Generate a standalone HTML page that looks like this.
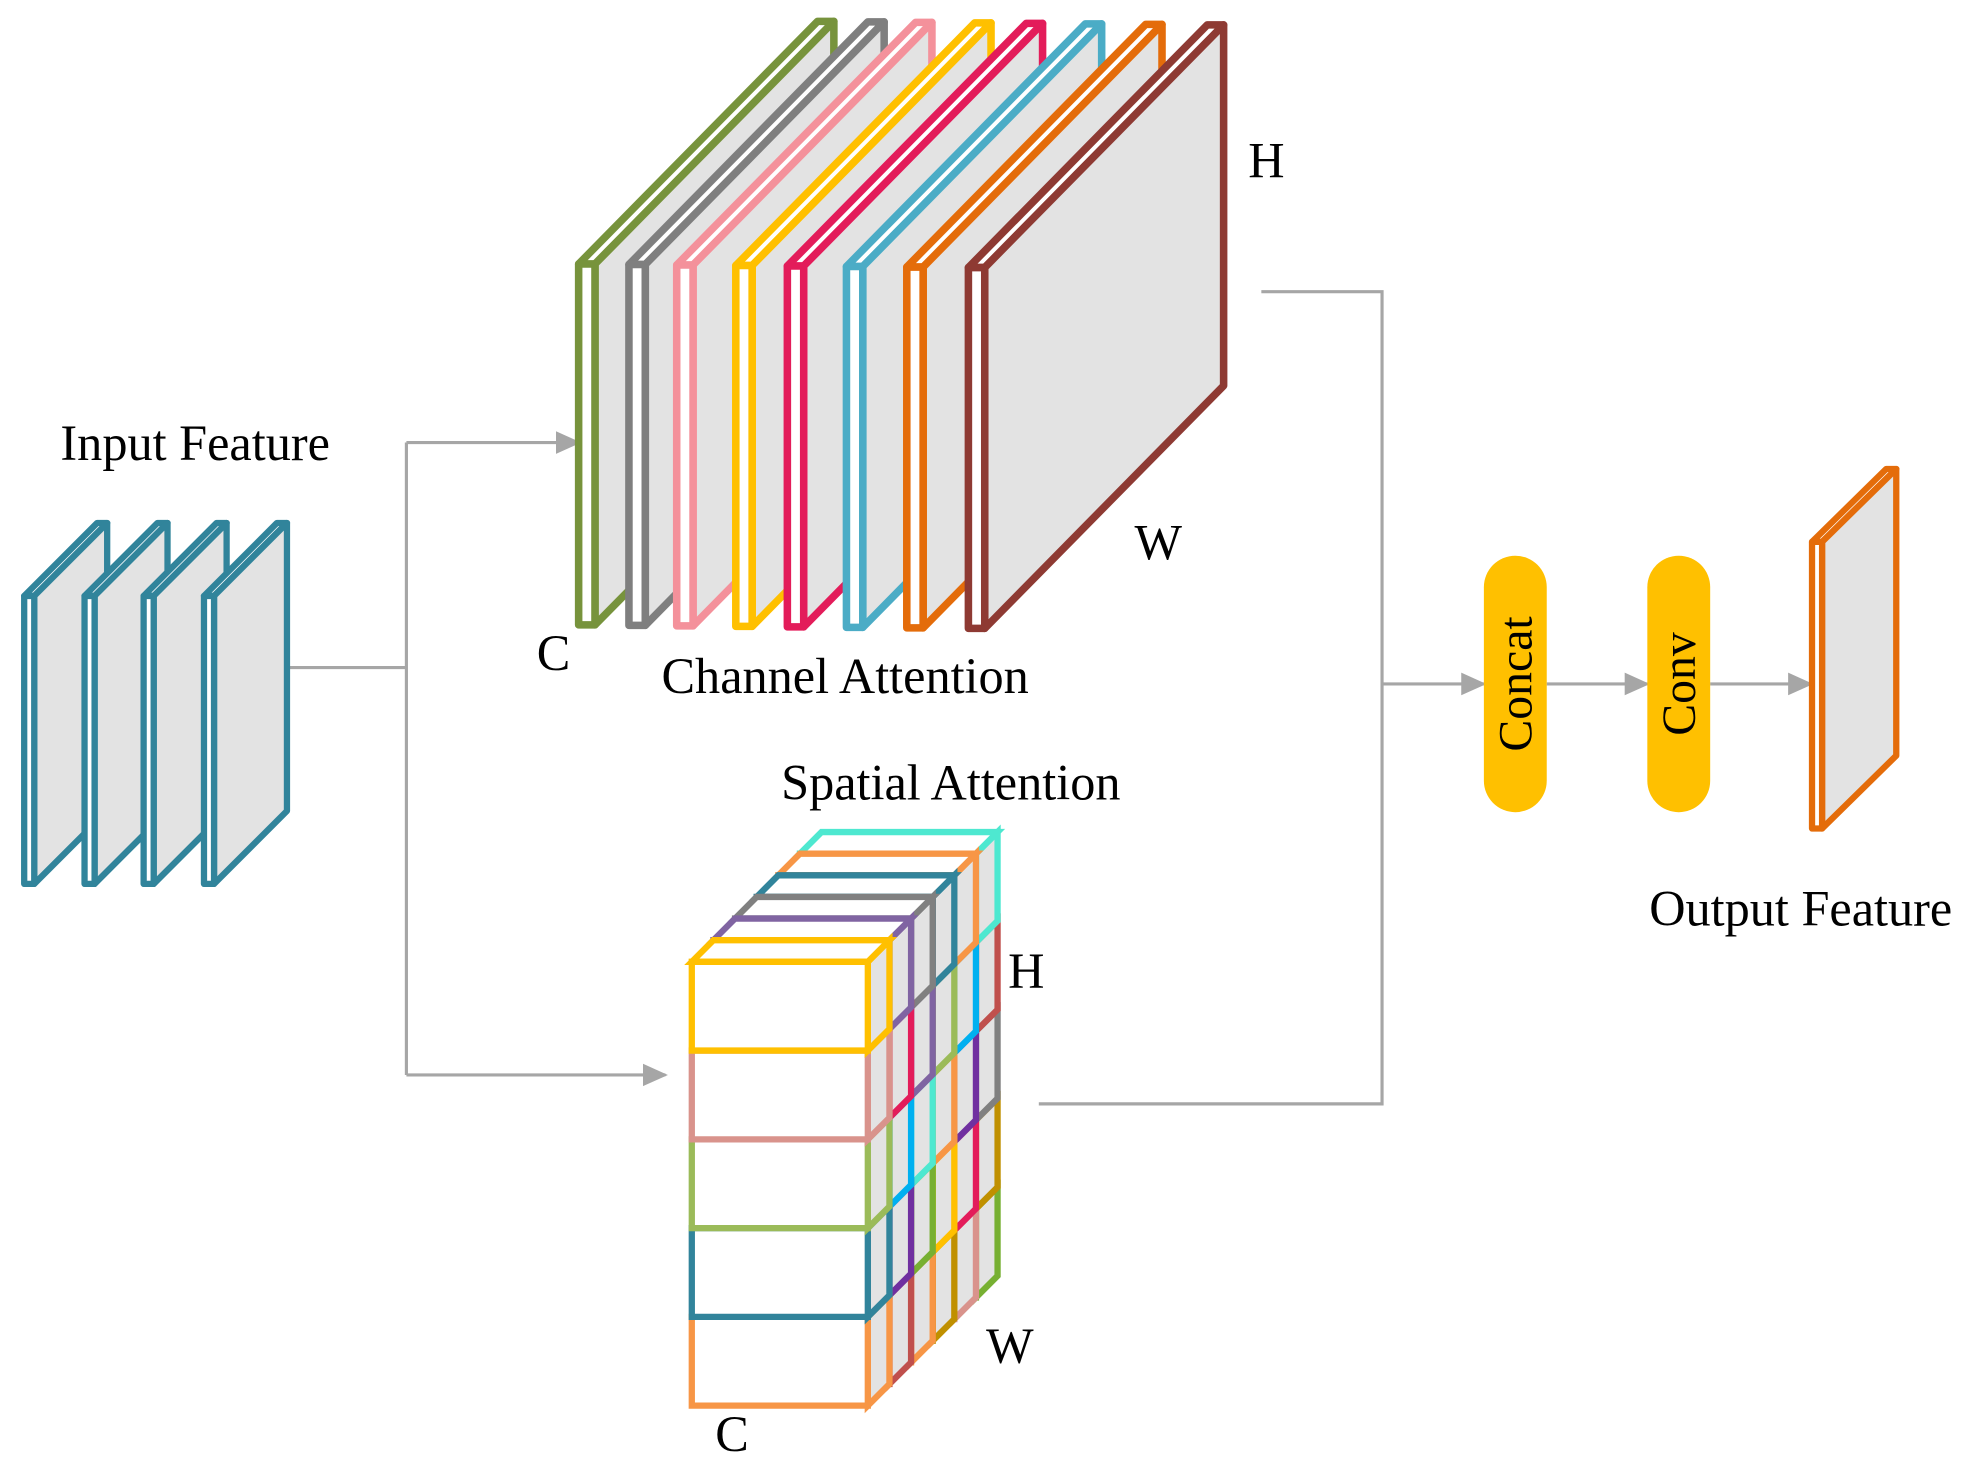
<!DOCTYPE html>
<html><head><meta charset="utf-8"><style>
html,body{margin:0;padding:0;background:#fff}
svg{display:block}
text{font-family:"Liberation Serif",serif;fill:#000}
</style></head><body>
<svg width="1972" height="1471" viewBox="0 0 1568 1170" xmlns="http://www.w3.org/2000/svg">
<defs>
<marker id="ah" markerWidth="20" markerHeight="20" refX="18" refY="9" orient="auto" markerUnits="userSpaceOnUse">
<path d="M0,0 L20,9 L0,18 Z" fill="#a6a6a6"/>
</marker>
</defs>
<g stroke="#a6a6a6" stroke-width="2.5" fill="none">
<path d="M230,531 H323 M323,352 V855"/>
<path d="M323,352 H460" marker-end="url(#ah)"/>
<path d="M323,855 H529" marker-end="url(#ah)"/>
<path d="M1003,232 H1099 V878 H826"/>
<path d="M1099,544 H1180" marker-end="url(#ah)"/>
<path d="M1230,544 H1310" marker-end="url(#ah)"/>
<path d="M1360,544 H1440" marker-end="url(#ah)"/>
</g>
<g id="slices" stroke-linejoin="round"></g>
<g id="spatial" stroke-linejoin="miter"></g>
<rect x="1180" y="442" width="50" height="204" rx="25" fill="#ffc000"/>
<rect x="1310" y="442" width="50" height="204" rx="25" fill="#ffc000"/>
<text transform="translate(1218,544) rotate(-90)" text-anchor="middle" font-size="38">Concat</text>
<text transform="translate(1348,544) rotate(-90)" text-anchor="middle" font-size="38">Conv</text>
<g font-size="40">
<text x="155" y="366" text-anchor="middle">Input Feature</text>
<text x="1007" y="141" text-anchor="middle">H</text>
<text x="921" y="445" text-anchor="middle">W</text>
<text x="440" y="533" text-anchor="middle">C</text>
<text x="672" y="551" text-anchor="middle">Channel Attention</text>
<text x="756" y="636" text-anchor="middle">Spatial Attention</text>
<text x="816" y="786" text-anchor="middle">H</text>
<text x="803" y="1084" text-anchor="middle">W</text>
<text x="582" y="1154" text-anchor="middle">C</text>
<text x="1432" y="736" text-anchor="middle">Output Feature</text>
</g>
<script>
var NS="http://www.w3.org/2000/svg";
function poly(g,pts,fill,stroke,sw){var p=document.createElementNS(NS,"polygon");p.setAttribute("points",pts.map(function(a){return a.join(",")}).join(" "));p.setAttribute("fill",fill);p.setAttribute("stroke",stroke);p.setAttribute("stroke-width",sw);g.appendChild(p);}
function slice(g,x,y,t,H,dx,dy,c,sw){
 poly(g,[[x,y],[x+dx,y-dy],[x+t+dx,y-dy],[x+t,y]],"#fff",c,sw);
 poly(g,[[x+t,y],[x+t+dx,y-dy],[x+t+dx,y-dy+H],[x+t,y+H]],"#e3e3e3",c,sw);
 poly(g,[[x,y],[x+t,y],[x+t,y+H],[x,y+H]],"#fff",c,sw);
}
var g=document.getElementById("slices");
var ch=[[460,"#77933c"],[500,"#7f7f7f"],[538,"#f4919b"],[585,"#ffc000"],[626,"#e31c5a"],[673,"#4bacc6"],[721,"#e46c0a"],[770,"#8e3a33"]];
ch.forEach(function(c,i){slice(g,c[0],210+i*0.4,13,287,190,193,c[1],6);});
[19,67,114,162].forEach(function(x){slice(g,x,474,8,229,58,58,"#31849b",5);});
slice(g,1441,431,8,228,59,58,"#e46c0a",5);
var s=document.getElementById("spatial");
var M=[["#ffc000","#8064a2","#808080","#31849b","#f79646","#4ee8d0"],
["#d9938c","#e31c5a","#8064a2","#9bbb59","#00b0f0","#c0504d"],
["#9bbb59","#00b0f0","#4ee8d0","#f79646","#7030a0","#808080"],
["#31849b","#7030a0","#77b032","#ffc000","#e31c5a","#c09000"],
["#f79646","#c0504d","#f79646","#c09000","#d9938c","#77b032"]];
var X=550,Y=765,W=140,RH=70.6,ox=17.2,oy=17.2;
for(var k=5;k>=0;k--){for(var r=4;r>=0;r--){
 var c=M[r][k],x=X+k*ox,y=Y+r*RH-k*oy;
 poly(s,[[x+W,y],[x+W+ox,y-oy],[x+W+ox,y-oy+RH],[x+W,y+RH]],"#e3e3e3",c,5);
 if(r==0)poly(s,[[x,y],[x+ox,y-oy],[x+W+ox,y-oy],[x+W,y]],"#fff",c,5);
 poly(s,[[x,y],[x+W,y],[x+W,y+RH],[x,y+RH]],"#fff",c,5);
}}
</script>
</svg>
</body></html>
